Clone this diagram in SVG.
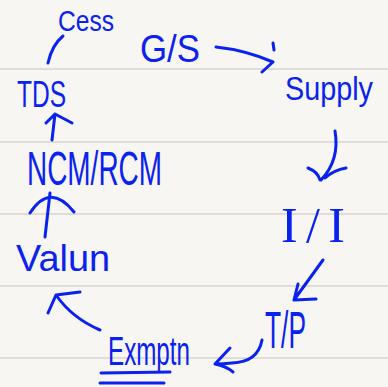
<svg xmlns="http://www.w3.org/2000/svg" width="388" height="387" viewBox="0 0 388 387">
  <style>
    .paper { fill: #f8f6f2; }
    .rule { stroke: #d8d5d0; stroke-width: 1.5; }
    .ink { fill: #0a22ee; font-family: "Liberation Sans", Arial, sans-serif; }
    .serif { font-family: "Liberation Serif", "Times New Roman", serif; }
    .pen { fill: none; stroke: #0a22ee; stroke-width: 3; stroke-linecap: round; stroke-linejoin: round; }
  </style>

  <!-- notebook page -->
  <rect class="paper" x="0" y="0" width="388" height="387"/>
  <g id="rules">
    <line class="rule" x1="0" y1="69" x2="388" y2="69"/>
    <line class="rule" x1="0" y1="142" x2="388" y2="142"/>
    <line class="rule" x1="0" y1="214" x2="388" y2="214"/>
    <line class="rule" x1="0" y1="286" x2="388" y2="286"/>
    <line class="rule" x1="0" y1="358" x2="388" y2="358"/>
  </g>

  <!-- topics -->
  <g id="node-cess"><text class="ink" x="58" y="31" font-size="29" textLength="56" lengthAdjust="spacingAndGlyphs">Cess</text></g>
  <g id="node-gs"><text class="ink" x="140" y="62" font-size="38" textLength="60" lengthAdjust="spacingAndGlyphs">G/S</text></g>
  <g id="node-supply"><text class="ink" x="285" y="100" font-size="33" textLength="88" lengthAdjust="spacingAndGlyphs">Supply</text></g>
  <g id="node-ii"><text class="ink serif" x="281" y="242" font-size="50" textLength="64" lengthAdjust="spacing">I/I</text></g>
  <g id="node-tp"><text class="ink" x="265" y="348" font-size="52" textLength="41" lengthAdjust="spacingAndGlyphs">T/P</text></g>
  <g id="node-exmptn"><text class="ink" x="108" y="365" font-size="40" textLength="82" lengthAdjust="spacingAndGlyphs">Exmptn</text>
    <path class="pen" d="M101 373 L170 372 M100 383 L164 383"/>
  </g>
  <g id="node-valun"><text class="ink" x="16" y="271" font-size="37" textLength="94" lengthAdjust="spacingAndGlyphs">Valun</text></g>
  <g id="node-ncm-rcm"><text class="ink" x="27" y="185" font-size="48" textLength="135" lengthAdjust="spacingAndGlyphs">NCM/RCM</text></g>
  <g id="node-tds"><text class="ink" x="17" y="107" font-size="37" textLength="49" lengthAdjust="spacingAndGlyphs">TDS</text></g>

  <!-- flow arrows -->
  <g id="connectors">
    <!-- TDS to Cess -->
    <path class="pen" d="M48 63 Q52 45 63 36"/>
    <!-- G/S to Supply -->
    <path class="pen" d="M216 47 Q245 50 273 62 M273 43 L274 50 M262 72 L273 62"/>
    <!-- Supply to I/I -->
    <path class="pen" d="M335 131 Q340 160 321 180 M308 168 Q318 172 320 180 M325 178 Q334 170 346 168"/>
    <!-- I/I to T/P -->
    <path class="pen" d="M323 260 L294 300 M298 284 L294 300 L316 299"/>
    <!-- T/P to Exmptn -->
    <path class="pen" d="M262 340 Q258 362 232 363 Q222 364 215 364 L230 348 M215 364 Q226 366 233 372"/>
    <!-- Exmptn to Valun -->
    <path class="pen" d="M100 330 Q72 318 56 295 M48 313 L56 295 L80 292"/>
    <!-- Valun to NCM/RCM -->
    <path class="pen" d="M45 237 L50 193 M30 213 Q50 182 74 212"/>
    <!-- NCM/RCM to TDS -->
    <path class="pen" d="M52 140 L55 114 M46 123 L55 114 L72 123"/>
  </g>
</svg>
